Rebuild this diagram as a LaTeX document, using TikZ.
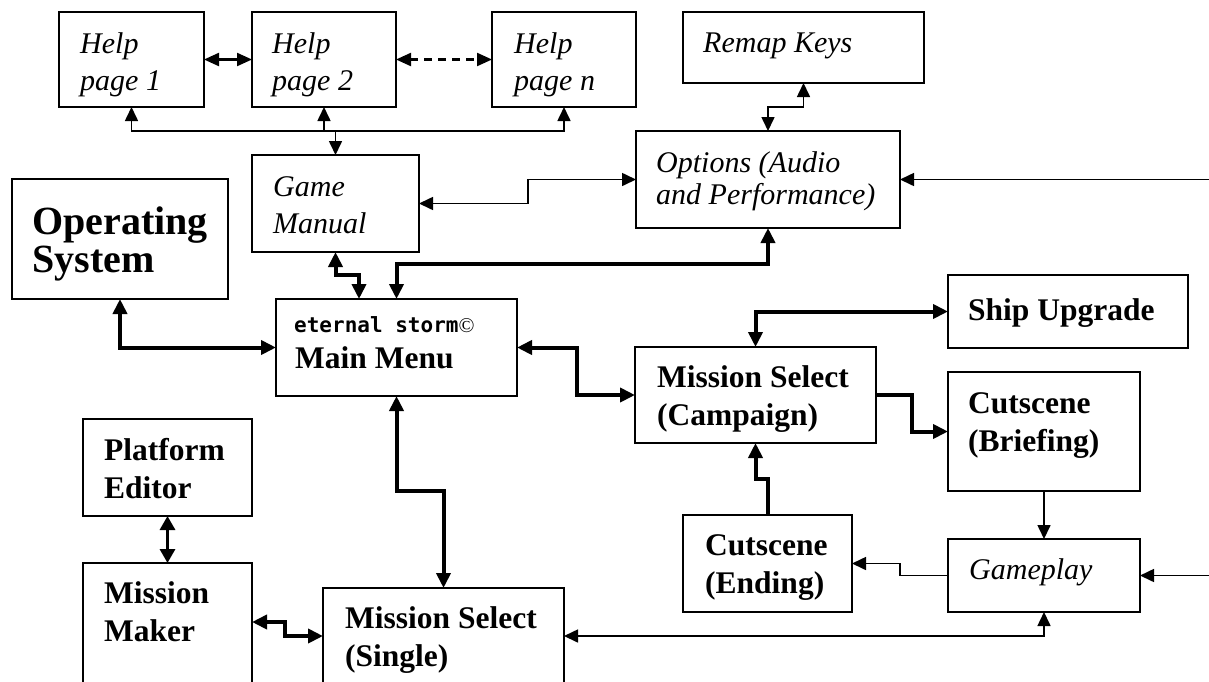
\documentclass[tikz,border=0pt]{standalone}
\usepackage{fontspec}
\setmainfont{Liberation Serif}
\newfontfamily\esfont{DejaVu Sans Mono}
\usetikzlibrary{arrows.meta}
\begin{document}
\begin{tikzpicture}[x=1pt,y=-1pt,
  bx/.style={draw, line width=1.6pt, anchor=north west, inner sep=0pt, outer sep=0pt, fill=white},
  itx/.style={font={\fontsize{30}{37}\selectfont\itshape}, anchor=north west, inner sep=0pt, align=left},
  itone/.style={font={\fontsize{30}{37}\selectfont\itshape}, anchor=base west, inner sep=0pt},
  bfx/.style={font={\fontsize{31.5}{38}\selectfont\bfseries}, anchor=north west, inner sep=0pt, align=left},
  bfone/.style={font={\fontsize{31.5}{38}\selectfont\bfseries}, anchor=base west, inner sep=0pt},
  thinln/.style={line width=1.6pt, >={Triangle[length=14pt,width=13pt]}},
  midln/.style={line width=2.2pt, >={Triangle[length=15pt,width=13pt]}},
  midthick/.style={line width=3.2pt, >={Triangle[length=14pt,width=15pt]}},
  thickln/.style={line width=4pt, >={Triangle[length=15pt,width=14pt]}}
]
\useasboundingbox (0,0) rectangle (1209,681);
\fill[white] (0,0) rectangle (1209,681);
\clip (0,0) rectangle (1209,681);

% boxes
\node[bx, minimum width=145pt, minimum height=95pt] (h1) at (59,12) {};
\node[bx, minimum width=144pt, minimum height=95pt] (h2) at (252,12) {};
\node[bx, minimum width=144pt, minimum height=95pt] (hn) at (492,12) {};
\node[bx, minimum width=241pt, minimum height=71pt] (remap) at (683,12) {};
\node[bx, minimum width=264pt, minimum height=97pt] (opt) at (636,131) {};
\node[bx, minimum width=167pt, minimum height=97pt] (gm) at (252,155) {};
\node[bx, minimum width=216pt, minimum height=120pt] (os) at (12,179) {};
\node[bx, minimum width=241pt, minimum height=97pt] (mm) at (276,299) {};
\node[bx, minimum width=241pt, minimum height=96pt] (camp) at (635,347) {};
\node[bx, minimum width=240pt, minimum height=73pt] (su) at (948,275) {};
\node[bx, minimum width=192pt, minimum height=119pt] (brief) at (948,372) {};
\node[bx, minimum width=192pt, minimum height=73pt] (gp) at (948,539) {};
\node[bx, minimum width=169pt, minimum height=97pt] (end) at (683,515) {};
\node[bx, minimum width=241pt, minimum height=120pt] (single) at (323,588) {};
\node[bx, minimum width=169pt, minimum height=97pt] (pe) at (83,419) {};
\node[bx, minimum width=169pt, minimum height=140pt] (mk) at (83,563) {};

% texts
\node[itx] (h1t) at (80,27.1) {\strut Help\\\strut page 1};
\node[itx] (h2t) at (272,27.1) {\strut Help\\\strut page 2};
\node[itx] (hnt) at (514,27.1) {\strut Help\\\strut page n};
\node[itone] (remapt) at (703,52) {Remap Keys};
\node[font={\fontsize{30}{32}\selectfont\itshape}, anchor=north west, inner sep=0pt, align=left] (optt) at (656,149.6) {\strut Options (Audio\\\strut and Performance)};
\node[itx] (gmt) at (273,170.1) {\strut Game\\\strut Manual};
\node[font={\fontsize{40}{38}\selectfont\bfseries}, anchor=north west, inner sep=0pt, align=left] (ost) at (32,207) {\strut Operating\\\strut System};
\node[anchor=base west, inner sep=0pt] (mmt1) at (294,332) {{\esfont\bfseries\fontsize{21}{24}\selectfont eternal storm}{\fontsize{21}{24}\selectfont\textcopyright}};
\node[bfone] (mmt2) at (295,368) {Main Menu};
\node[bfx] (campt) at (657,360.4) {\strut Mission Select\\\strut (Campaign)};
\node[bfone] (sut) at (968,320) {Ship Upgrade};
\node[bfx] (brieft) at (968,386.4) {\strut Cutscene\\\strut (Briefing)};
\node[itone] (gpt) at (969,579) {Gameplay};
\node[bfx] (endt) at (705,528.4) {\strut Cutscene\\\strut (Ending)};
\node[bfx] (singlet) at (345,601.4) {\strut Mission Select\\\strut (Single)};
\node[bfx] (pet) at (104,433.4) {\strut Platform\\\strut Editor};
\node[bfx] (mkt) at (104,576.4) {\strut Mission\\\strut Maker};

% coordinates
\coordinate (bus) at (0,131);
\coordinate (redge1) at (1210,179.5);
\coordinate (redge2) at (1210,575.5);

% connectors
\draw[midln,<->] (h1.east) -- (h2.west);
\draw[midln,<->,dash pattern=on 8pt off 6pt] (h2.east) -- (hn.west);
\draw[thinln,<->] (h1.south) -- (h1.south |- bus) -| (hn.south);
\draw[thinln,<-] (h2.south) -- (h2.south |- bus);
\draw[thinln,->] (gm.north |- bus) -- (gm.north);
\draw[thinln,<->] (opt.north) -- ++(0,-24) -| (remap.south);
\draw[thinln,<->] (gm.east) -- ++(109,0) |- (opt.west);
\draw[thinln,->] (redge1) -- (opt.east);
\draw[thickln,<->] (gm.south) -- ++(0,23) -| ([xshift=83pt]mm.north west);
\draw[thickln,<->] (opt.south) -- ++(0,36) -| (mm.north);
\draw[thickln,<->] (os.south) |- (mm.west);
\draw[thickln,<->] (mm.east) -- ++(60,0) |- (camp.west);
\draw[thickln,<->] (camp.north) |- (su.west);
\draw[thickln,->] (camp.east) -- ++(36,0) |- (brief.west);
\draw[thickln,->] (end.north) -- ++(0,-36) -| (camp.south);
\draw[thinln,->] (brief.south) -- (gp.north);
\draw[thinln,->] (gp.west) -- ++(-48,0) |- (end.east);
\draw[thinln,->] (redge2) -- (gp.east);
\draw[thinln,<->] (gp.south) |- ([yshift=-48pt]single.north east);
\draw[thickln,<->] (mm.south) -- ++(0,95) -| (single.north);
\draw[midthick,<->] (pe.south) -- (mk.north);
\draw[thickln,<->] ([yshift=-59pt]mk.north east) -- ++(33,0) |- ([yshift=-48pt]single.north west);
\end{tikzpicture}
\end{document}
